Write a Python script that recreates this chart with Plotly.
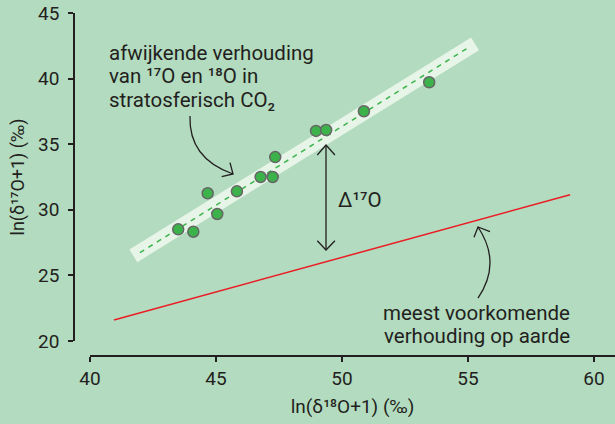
import plotly.graph_objects as go

# Measured points (stratospheric CO2)
x_strat = [43.50, 44.10, 44.67, 45.05, 45.83, 46.77, 47.25, 47.35, 48.97, 49.37, 50.87, 53.46]
y_strat = [28.51, 28.33, 31.26, 29.68, 31.41, 32.50, 32.50, 34.02, 36.01, 36.08, 37.51, 39.72]

# Fitted trend (dashed) and highlight band
x_band = [41.72, 55.28]
y_band = [26.49, 42.65]
x_fit = [41.98, 55.01]
y_fit = [26.73, 42.36]

# Terrestrial fractionation line
x_earth = [40.95, 59.05]
y_earth = [21.60, 31.15]

x_ticks = [40, 45, 50, 55, 60]
y_ticks = [20, 25, 30, 35, 40, 45]

BG = "#b2dbbf"
INK = "#231f20"
FONT = "Roboto"

fig = go.Figure()
fig.add_trace(go.Scatter(x=x_band, y=y_band, mode="lines",
                         line=dict(color="#e7f4e8", width=15), hoverinfo="skip"))
fig.add_trace(go.Scatter(x=x_fit, y=y_fit, mode="lines",
                         line=dict(color="#3cb44b", width=1.5, dash="5px,5px"), hoverinfo="skip"))
fig.add_trace(go.Scatter(x=x_earth, y=y_earth, mode="lines",
                         line=dict(color="#ec1c24", width=1.5)))
fig.add_trace(go.Scatter(x=x_strat, y=y_strat, mode="markers",
                         marker=dict(size=11, color="#3cb34a",
                                     line=dict(color="#666666", width=1.5))))

shapes = [
    # curved arrow to band
    dict(type="path", path="M 43.968,37.149 Q 43.909,33.918 45.675,32.729"),
    dict(type="path", path="M 45.226,32.523 L 45.675,32.729 L 45.556,33.590"),
    # curved arrow to red line
    dict(type="path", path="M 55.397,23.277 Q 56.349,25.945 55.397,28.689"),
    dict(type="path", path="M 55.238,27.904 L 55.397,28.689 L 55.873,28.331"),
    # Delta arrow
    dict(type="line", x0=49.365, y0=34.939, x1=49.365, y1=26.936),
    dict(type="path", path="M 49.02,34.177 L 49.365,34.939 L 49.72,34.177"),
    dict(type="path", path="M 49.02,27.645 L 49.365,26.936 L 49.72,27.645"),
]
for s in shapes:
    s.update(xref="x", yref="y", line=dict(color=INK, width=1.3), layer="above")
fig.update_layout(shapes=shapes)

ann_font = dict(family=FONT, size=20.5, color=INK)
anns = [
    dict(x=40.675, y=41.95, text="afwijkende verhouding", xanchor="left"),
    dict(x=40.675, y=40.20, text="van ¹⁷O en ¹⁸O in", xanchor="left"),
    dict(x=40.675, y=38.37, text="stratosferisch CO₂", xanchor="left"),
    dict(x=55.34, y=22.13, text="meest voorkomende", xanchor="center"),
    dict(x=55.34, y=20.38, text="verhouding op aarde", xanchor="center"),
    dict(x=49.76, y=30.75, text="Δ¹⁷O", xanchor="left"),
]
for a in anns:
    fig.add_annotation(xref="x", yref="y", showarrow=False, yanchor="middle",
                       font=ann_font, **a)

fig.update_layout(
    width=615, height=424, autosize=False,
    margin=dict(l=0, r=0, t=0, b=0),
    paper_bgcolor=BG, plot_bgcolor=BG,
    showlegend=False,
    font=dict(family=FONT, size=19, color=INK),
    xaxis=dict(domain=[90/615, 1], range=[40, 40 + 525/25.2],
               anchor="free", position=1 - 356/424, automargin=False,
               showgrid=False, zeroline=False, showline=True, linecolor=INK, linewidth=1.5,
               ticks="outside", ticklen=5, tickwidth=1.5, tickcolor=INK,
               tickvals=x_ticks, ticktext=[str(v) for v in x_ticks],
               tickfont=dict(family=FONT, size=19, color=INK),
               title=dict(text="ln(δ¹⁸O+1) (‰)", font=dict(family=FONT, size=19, color=INK), standoff=10)),
    yaxis=dict(domain=[1 - 341/424, 1 - 13/424], range=[20, 45],
               anchor="free", position=74/615, automargin=False,
               showgrid=False, zeroline=False, showline=True, linecolor=INK, linewidth=1.5,
               ticks="outside", ticklen=5, tickwidth=1.5, tickcolor=INK, ticklabelstandoff=5,
               tickvals=y_ticks, ticktext=[str(v) for v in y_ticks],
               tickfont=dict(family=FONT, size=19, color=INK),
               title=dict(text="ln(δ¹⁷O+1) (‰)", font=dict(family=FONT, size=18, color=INK), standoff=8)),
)

fig.write_html("out.html", config={"displayModeBar": False},
               post_script="document.body.style.margin='0';document.body.style.background='%s';" % BG)
